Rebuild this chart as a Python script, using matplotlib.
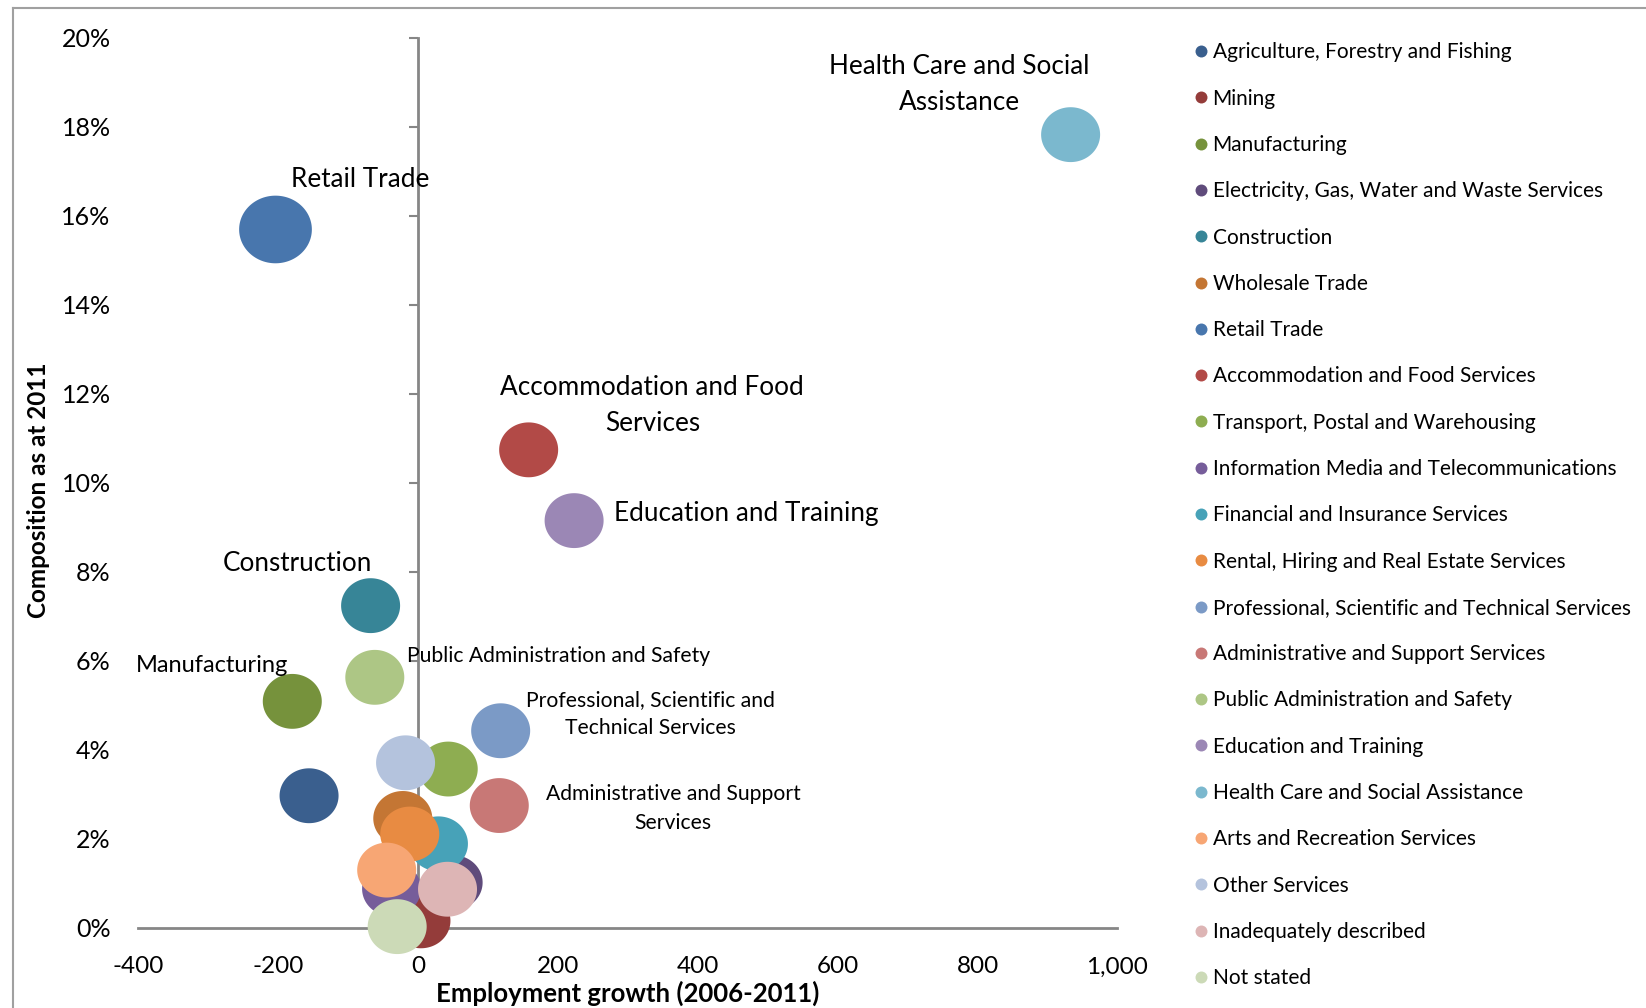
import numpy as np
import matplotlib
matplotlib.use("Agg")
import matplotlib.pyplot as plt
from matplotlib.path import Path
from matplotlib.lines import Line2D
from matplotlib.ticker import FuncFormatter, MultipleLocator

plt.rcParams['font.family'] = ['Lato', 'DejaVu Sans']

# dados
industries = [
    "Agriculture, Forestry and Fishing", "Mining", "Manufacturing",
    "Electricity, Gas, Water and Waste Services", "Construction", "Wholesale Trade",
    "Retail Trade", "Accommodation and Food Services", "Transport, Postal and Warehousing",
    "Information Media and Telecommunications", "Financial and Insurance Services",
    "Rental, Hiring and Real Estate Services", "Professional, Scientific and Technical Services",
    "Administrative and Support Services", "Public Administration and Safety",
    "Education and Training", "Health Care and Social Assistance",
    "Arts and Recreation Services", "Other Services", "Inadequately described", "Not stated",
]
growth = [-156, 4, -180, 50, -68, -22, -204, 158, 43, -38, 29, -12, 118, 116, -62, 223, 933, -45, -18, 42, -30]
share = [2.97, 0.16, 5.09, 1.02, 7.24, 2.46, 15.69, 10.74, 3.57, 0.88, 1.89, 2.11, 4.43, 2.75, 5.63, 9.15, 17.82, 1.30, 3.71, 0.87, 0.03]
bubble = [1, 1, 1, 1, 1, 1, 1.52, 1, 1, 1, 1, 1, 1, 1, 1, 1, 1, 1, 1, 1, 1]
colors = ["#3A5F8E", "#943C3A", "#76923C", "#5F4B7B", "#378597", "#C47634",
          "#4876AD", "#B24A47", "#8EAD51", "#765D9A", "#47A2B8", "#E88B42",
          "#7B9AC6", "#C87876", "#ADC685", "#9B87B5", "#7BB8CE", "#F7A674",
          "#B4C3DD", "#DDB5B5", "#CCDAB7"]

# rotulos: (indice, texto, deslocamento em pontos, alinhamento, tamanho)
labels = [
    (16, "Health Care and Social\nAssistance", (-80, 36), 'center', 18.8),
    (6, "Retail Trade", (61, 36), 'center', 18.8),
    (7, "Accommodation and Food\nServices", (89, 32), 'center', 18.8),
    (15, "Education and Training", (29, 5), 'left', 18.8),
    (4, "Construction", (-53, 30), 'center', 18.8),
    (14, "Public Administration and Safety", (23, 15), 'left', 15.2),
    (2, "Manufacturing", (-58, 26), 'center', 17),
    (12, "Professional, Scientific and\nTechnical Services", (108, 12), 'center', 15.2),
    (13, "Administrative and Support\nServices", (125, -2), 'center', 15.2),
]

xmin, xmax = -400, 1000
ymin, ymax = 0, 20

fig = plt.figure(figsize=(16.46, 10.08), dpi=100)
ax = fig.add_axes([0.0841, 0.0794, 0.5948, 0.8833])

# marcador eliptico (bolhas do Excel sao um pouco achatadas)
t = np.linspace(0, 2 * np.pi, 120)
ellipse = Path(np.column_stack([np.cos(t), 0.93 * np.sin(t)]), closed=True)
base = (59 * 0.72) ** 2

for i in range(len(industries)):
    ax.scatter(growth[i], share[i], s=base * bubble[i], marker=ellipse,
               color=colors[i], edgecolors='none', clip_on=False, zorder=3)

for i, txt, off, ha, fs in labels:
    ax.annotate(txt, (growth[i], share[i]), xytext=off, textcoords='offset points',
                ha=ha, va='center', fontsize=fs, multialignment='center',
                linespacing=1.55, zorder=4)

ax.set_xlim(xmin, xmax)
ax.set_ylim(ymin, ymax)
for s in ['top', 'right', 'left']:
    ax.spines[s].set_visible(False)
ax.spines['bottom'].set_color('#868686')
ax.spines['bottom'].set_linewidth(2)

ax.xaxis.set_major_locator(MultipleLocator(200))
ax.xaxis.set_major_formatter(FuncFormatter(lambda v, p: f"{v:,.0f}"))
ax.tick_params(axis='x', length=0, pad=20.5, labelsize=17.5)
ax.yaxis.set_major_locator(MultipleLocator(2))
ax.yaxis.set_major_formatter(FuncFormatter(lambda v, p: f"{v:.0f}%"))
ax.tick_params(axis='y', length=0, pad=20, labelsize=18)

# eixo vertical cruzando em x = 0
sec = ax.secondary_yaxis((0 - xmin) / (xmax - xmin))
sec.spines['left'].set_color('#868686')
sec.spines['left'].set_linewidth(2)
sec.yaxis.set_major_locator(MultipleLocator(2))
sec.tick_params(axis='y', direction='out', length=6.5, width=1.5, color='#868686', labelleft=False)

ax.set_xlabel("Employment growth (2006-2011)", fontsize=18.5, fontweight='bold', labelpad=2)
ax.set_ylabel("Composition as at 2011", fontsize=17.5, fontweight='bold')
ax.yaxis.set_label_coords(-0.090, 0.492)

handles = [Line2D([], [], linestyle='none', marker='o', markersize=8.6,
                  markerfacecolor=c, markeredgecolor='none') for c in colors]
fig.legend(handles, industries, loc='upper left', bbox_to_anchor=(0.7259, 0.958),
           frameon=False, fontsize=15, handlelength=0.55, handletextpad=0.3,
           labelspacing=1.262, borderpad=0, borderaxespad=0)

# moldura cinza do grafico
fig.add_artist(Line2D([0.0077, 0.0077], [0, 0.9917], color='#A0A0A0', lw=1.5))
fig.add_artist(Line2D([0.0077, 1], [0.9917, 0.9917], color='#A0A0A0', lw=1.5))

fig.savefig("out.png", dpi=100)
